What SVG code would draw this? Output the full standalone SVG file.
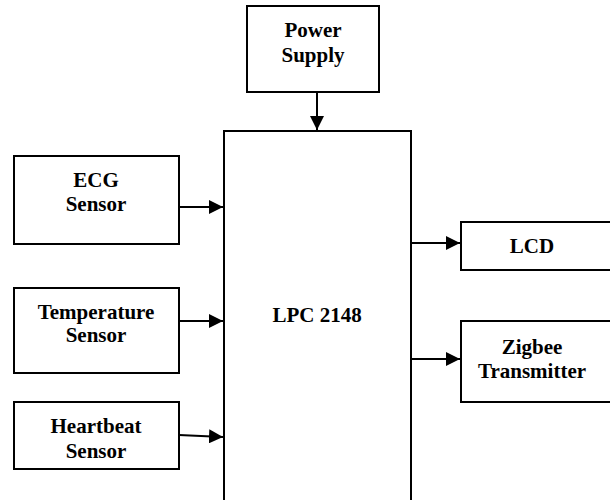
<svg xmlns="http://www.w3.org/2000/svg" width="610" height="500" viewBox="0 0 610 500">
<style>
.box{fill:#fff;stroke:#000;stroke-width:2}
.t{font-family:"Liberation Serif","Times New Roman",serif;font-weight:bold;font-size:21px;text-anchor:middle;fill:#000}
.c{stroke:#000;stroke-width:2;fill:none;marker-end:url(#ah)}
</style>
<defs>
<marker id="ah" markerWidth="14" markerHeight="14" refX="14" refY="7" orient="auto" markerUnits="userSpaceOnUse">
<path d="M0,0 L14,7 L0,14 Z" fill="#000"/>
</marker>
</defs>
<rect width="610" height="500" fill="#fff"/>
<g id="power">
<rect class="box" x="247" y="6" width="132" height="86"/>
<text class="t" x="313" y="37">Power</text>
<text class="t" x="313" y="62">Supply</text>
</g>
<g id="lpc">
<rect class="box" x="224" y="131" width="187" height="380"/>
<text class="t" x="317" y="322">LPC 2148</text>
</g>
<g id="ecg">
<rect class="box" x="14" y="156" width="165" height="88"/>
<text class="t" x="96" y="187">ECG</text>
<text class="t" x="96" y="211">Sensor</text>
</g>
<g id="temp">
<rect class="box" x="14" y="288" width="165" height="85"/>
<text class="t" x="96" y="319">Temperature</text>
<text class="t" x="96" y="342">Sensor</text>
</g>
<g id="heart">
<rect class="box" x="14" y="402" width="165" height="67"/>
<text class="t" x="96" y="433">Heartbeat</text>
<text class="t" x="96" y="458">Sensor</text>
</g>
<g id="lcd">
<rect class="box" x="461" y="222" width="160" height="48"/>
<text class="t" x="532" y="253">LCD</text>
</g>
<g id="zigbee">
<rect class="box" x="461" y="321" width="160" height="81"/>
<text class="t" x="532" y="354">Zigbee</text>
<text class="t" x="532" y="378">Transmitter</text>
</g>
<g id="connectors">
<line class="c" x1="317" y1="93" x2="317" y2="130"/>
<line class="c" x1="179" y1="207" x2="223" y2="207"/>
<line class="c" x1="179" y1="321" x2="223" y2="321"/>
<line class="c" x1="179" y1="435" x2="223" y2="437"/>
<line class="c" x1="411" y1="243" x2="460" y2="243"/>
<line class="c" x1="411" y1="359" x2="460" y2="359"/>
</g>
</svg>
